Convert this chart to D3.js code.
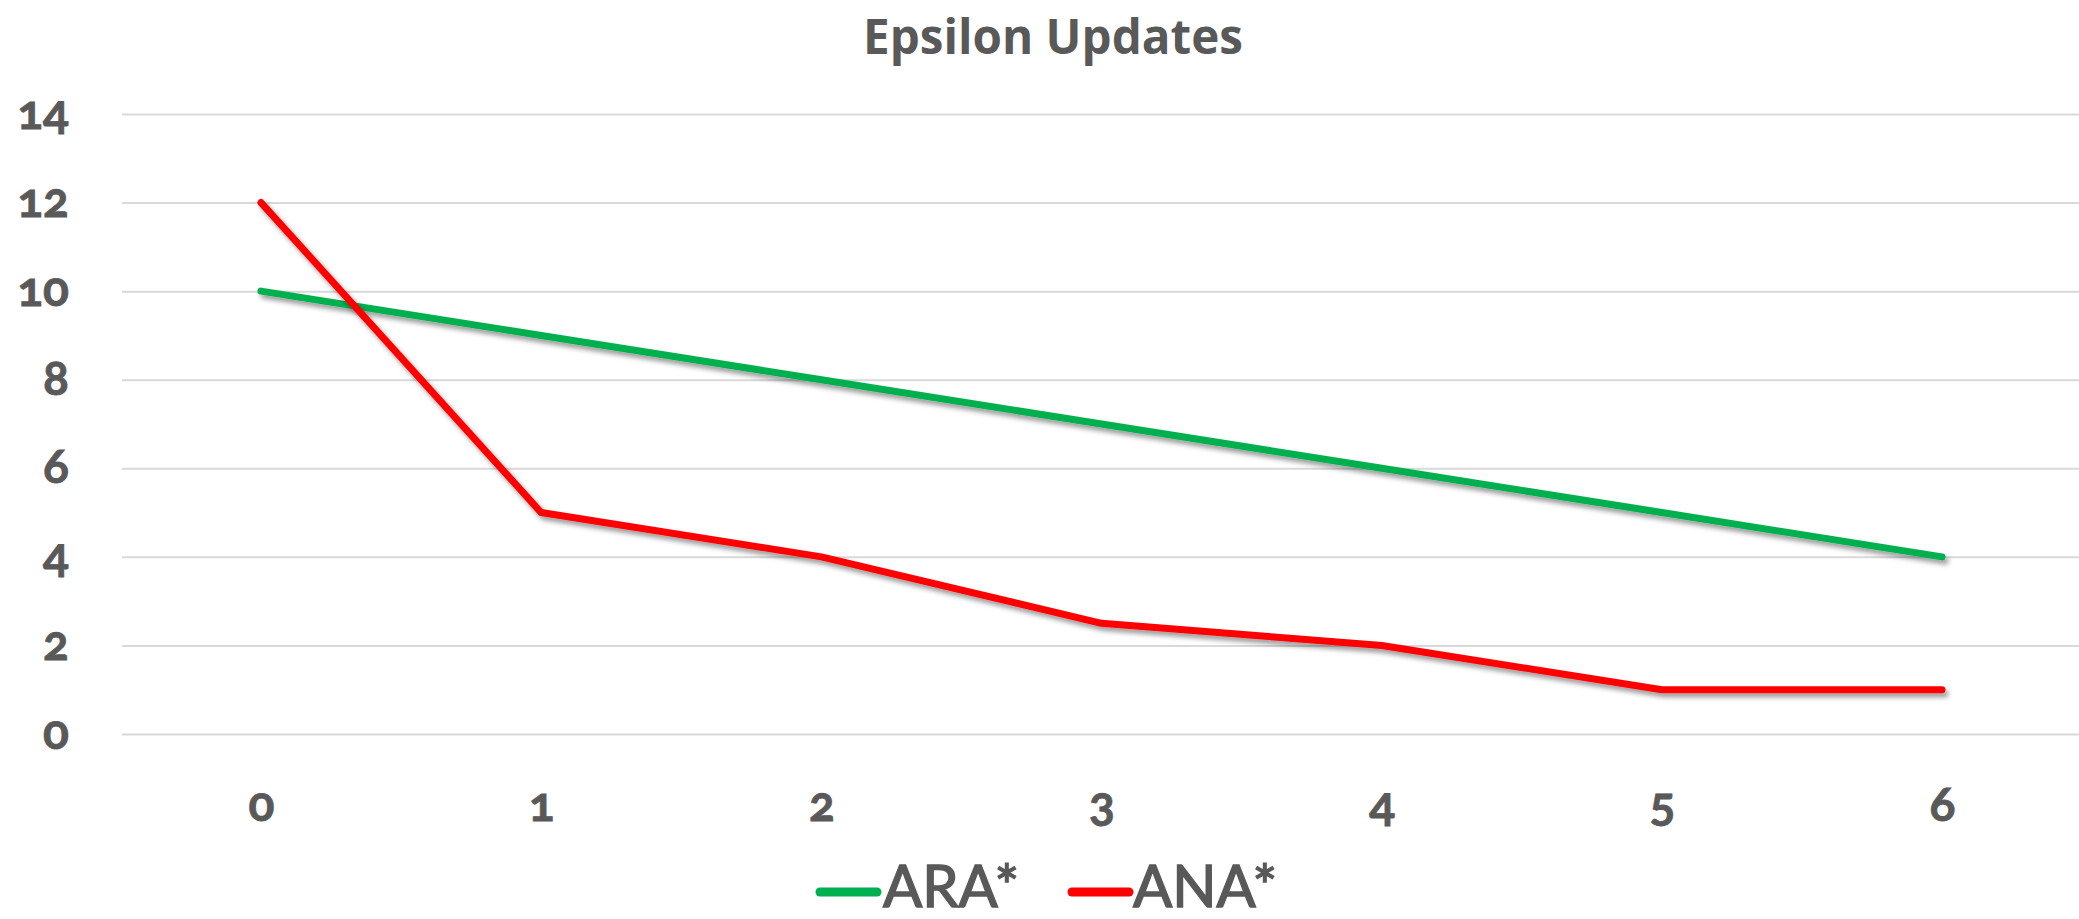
<!DOCTYPE html>
<html>
<head>
<meta charset="utf-8">
<script src="https://cdn.jsdelivr.net/npm/d3@7"></script>
<style>
  html, body { margin: 0; padding: 0; background: #fff; }
  svg { display: block; }
</style>
</head>
<body>
<svg id="chart" width="2079" height="919"></svg>
<script>
const title = "Epsilon Updates";
const categories = [0, 1, 2, 3, 4, 5, 6];
const seriesNames = ["ARA*", "ANA*"];
const araValues = [10, 9, 8, 7, 6, 5, 4];
const anaValues = [12, 5, 4, 2.5, 2, 1, 1];
const seriesColors = ["#00B050", "#FF0000"];
const yTicks = [0, 2, 4, 6, 8, 10, 12, 14];

const W = 2079, H = 919;
const svg = d3.select("#chart");
const textColor = "#595959";

const defs = svg.append("defs");
const f = defs.append("filter").attr("id", "shadow")
  .attr("x", "-5%").attr("y", "-5%").attr("width", "110%").attr("height", "120%");
f.append("feDropShadow").attr("dx", 3).attr("dy", 4).attr("stdDeviation", 2.5)
  .attr("flood-color", "#000").attr("flood-opacity", 0.4);

const plotLeft = 122, plotRight = W;
const x = d3.scalePoint().domain(categories).range([261, 1942]);
const y = d3.scaleLinear().domain([0, 14]).range([734, 114]);

const tickFont = sel => sel
  .attr("fill", textColor)
  .attr("stroke", textColor).attr("stroke-width", 0.8)
  .style("font-family", "Lato, 'Open Sans', sans-serif")
  .style("font-weight", "bold")
  .style("font-size", "48px")
  .style("font-variant-numeric", "oldstyle-nums")
  .style("font-feature-settings", "'onum' 1");

// Y axis with gridlines
const yAxis = svg.append("g")
  .attr("transform", `translate(${plotLeft},0)`)
  .call(d3.axisLeft(y).tickValues(yTicks).tickSize(-(plotRight - plotLeft)).tickPadding(53));
yAxis.select(".domain").remove();
yAxis.selectAll(".tick line").attr("stroke", "#D9D9D9").attr("stroke-width", 2);
yAxis.selectAll(".tick text").call(tickFont).attr("dy", "0.3em");

// X axis labels
const xAxis = svg.append("g")
  .attr("transform", `translate(0,${y(0)})`)
  .call(d3.axisBottom(x).tickSize(0));
xAxis.select(".domain").remove();
xAxis.selectAll(".tick text").call(tickFont).attr("y", 87).attr("dy", 0);

// Lines
const line = d3.line().x((d, i) => x(categories[i])).y(d => y(d));
[araValues, anaValues].forEach((vals, k) => {
  svg.append("path")
    .datum(vals)
    .attr("d", line)
    .attr("fill", "none")
    .attr("stroke", seriesColors[k])
    .attr("stroke-width", 7)
    .attr("stroke-linecap", "round")
    .attr("stroke-linejoin", "round")
    .attr("filter", "url(#shadow)");
});

// Title
const t = svg.append("text")
  .attr("x", 1053).attr("y", 54)
  .attr("text-anchor", "middle")
  .attr("fill", textColor)
  .style("font-family", "'Open Sans', sans-serif")
  .style("font-weight", "bold")
  .style("font-size", "48px")
  .text(title);
const tw = t.node().getComputedTextLength();
t.style("font-size", (48 * 380 / tw) + "px");

// Legend
const legendItems = [
  { name: seriesNames[0], color: seriesColors[0], x0: 820, x1: 877, tx: 883, tw: 150 },
  { name: seriesNames[1], color: seriesColors[1], x0: 1072, x1: 1129, tx: 1133, tw: 159 }
];
const lg = svg.append("g");
legendItems.forEach(it => {
  lg.append("line")
    .attr("x1", it.x0).attr("x2", it.x1)
    .attr("y1", 892).attr("y2", 892)
    .attr("stroke", it.color).attr("stroke-width", 9).attr("stroke-linecap", "round");
  const tx = lg.append("text")
    .attr("x", it.tx).attr("y", 907)
    .attr("fill", textColor)
    .attr("stroke", textColor).attr("stroke-width", 1.5)
    .style("font-family", "Lato, sans-serif")
    .style("font-size", "56px")
    .text(it.name);
  const w = tx.node().getComputedTextLength();
  tx.style("font-size", Math.min(58, 56 * it.tw / w) + "px");
});
</script>
</body>
</html>
